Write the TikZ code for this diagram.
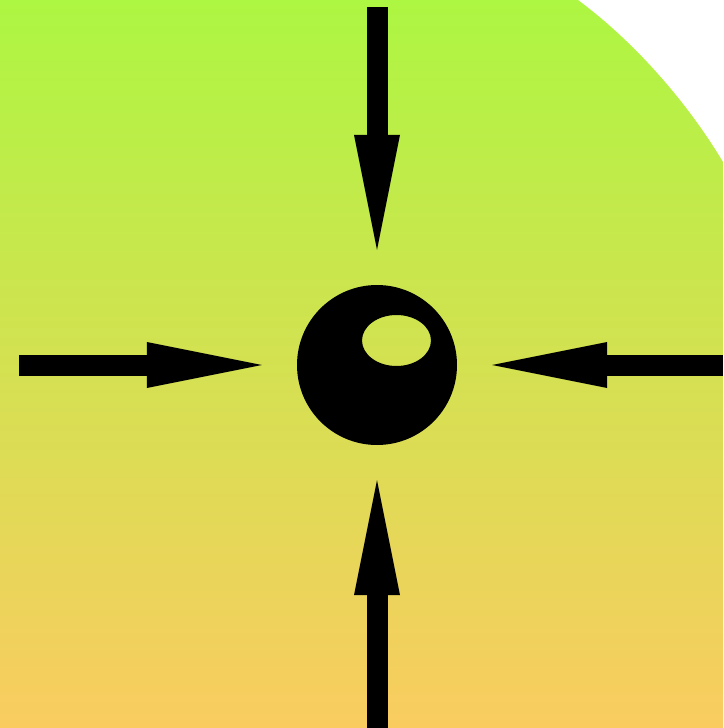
\documentclass[tikz,border=0pt]{standalone}
\usetikzlibrary{arrows.meta}

\definecolor{fieldtop}{RGB}{173,246,66}
\definecolor{fieldmid}{RGB}{220,224,88}
\definecolor{fieldbot}{RGB}{250,204,96}

\begin{document}
\begin{tikzpicture}[
  x=1pt, y=-1pt,
  ball/.style={circle, minimum size=160pt, inner sep=0pt},
  push/.style={line width=21pt, -{Triangle[length=115pt,width=46pt,line width=0pt]}, shorten >=35pt}
]
\useasboundingbox (0,0) rectangle (723,728);
\fill[white] (0,0) rectangle (723,728);
% background field
\shade[top color=fieldtop, middle color=fieldmid, bottom color=fieldbot]
  (0,0) -- (578,0) .. controls (645,50) and (695,115) .. (723,162) -- (723,728) -- (0,728) -- cycle;

\node[ball] (ball) at (377,365) {};
\fill[even odd rule] (ball.center) circle[radius=80]
  (396.5,340.5) ellipse[x radius=34.5, y radius=25.5];

\coordinate (top) at (377,7);
\coordinate (left) at (19,365);
\coordinate (right) at (723,365);
\coordinate (bottom) at (377,728);
\draw[push] (top) -- (ball);
\draw[push] (left) -- (ball);
\draw[push] (right) -- (ball);
\draw[push] (bottom) -- (ball);
\end{tikzpicture}
\end{document}
